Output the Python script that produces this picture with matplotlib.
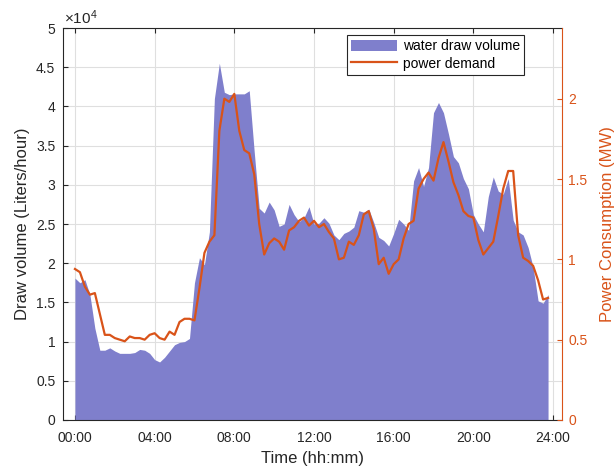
import numpy as np
import matplotlib
matplotlib.use("Agg")
import matplotlib.pyplot as plt
from matplotlib.patches import Patch
from matplotlib.lines import Line2D

plt.rcParams['font.family'] = ['Liberation Sans', 'DejaVu Sans']
plt.rcParams['mathtext.fontset'] = 'custom'
plt.rcParams['mathtext.rm'] = 'Liberation Sans'

# 15 minute samples, 00:00 .. 23:45
step_h = 0.25

# water draw volume, x 10^4 liters/hour
volume = [1.81, 1.75, 1.79, 1.60, 1.17, 0.89, 0.89, 0.92,
          0.88, 0.85, 0.85, 0.85, 0.86, 0.90, 0.89, 0.85,
          0.77, 0.74, 0.80, 0.88, 0.96, 0.99, 1.00, 1.04,
          1.75, 2.07, 1.98, 2.40, 4.10, 4.55, 4.18, 4.15,
          4.16, 4.16, 4.16, 4.20, 3.42, 2.70, 2.64, 2.78,
          2.68, 2.47, 2.50, 2.75, 2.62, 2.53, 2.58, 2.72,
          2.50, 2.51, 2.58, 2.51, 2.36, 2.30, 2.38, 2.41,
          2.46, 2.67, 2.65, 2.69, 2.52, 2.33, 2.29, 2.22,
          2.38, 2.56, 2.50, 2.42, 3.05, 3.22, 2.98, 3.22,
          3.92, 4.05, 3.92, 3.65, 3.36, 3.28, 3.08, 2.95,
          2.62, 2.50, 2.40, 2.85, 3.10, 2.92, 2.88, 3.08,
          2.55, 2.40, 2.36, 2.20, 1.95, 1.52, 1.49, 1.60]

# power demand, MW
power = [0.94, 0.92, 0.83, 0.78, 0.79, 0.66, 0.53, 0.53,
         0.51, 0.50, 0.49, 0.52, 0.51, 0.51, 0.50, 0.53,
         0.54, 0.51, 0.50, 0.55, 0.53, 0.61, 0.63, 0.63,
         0.62, 0.82, 1.04, 1.11, 1.15, 1.80, 2.00, 1.98,
         2.03, 1.80, 1.68, 1.66, 1.53, 1.22, 1.03, 1.10,
         1.13, 1.11, 1.06, 1.18, 1.20, 1.24, 1.26, 1.21,
         1.24, 1.20, 1.22, 1.17, 1.13, 1.00, 1.01, 1.11,
         1.09, 1.15, 1.28, 1.30, 1.19, 0.97, 1.01, 0.91,
         0.97, 1.00, 1.13, 1.22, 1.24, 1.44, 1.50, 1.54,
         1.49, 1.63, 1.73, 1.61, 1.48, 1.40, 1.30, 1.27,
         1.26, 1.12, 1.03, 1.07, 1.11, 1.27, 1.44, 1.55,
         1.55, 1.15, 1.01, 0.99, 0.96, 0.87, 0.75, 0.76]

hour_ticks = [0, 4, 8, 12, 16, 20, 24]
hour_labels = ["00:00", "04:00", "08:00", "12:00", "16:00", "20:00", "24:00"]

hours = np.arange(len(volume)) * step_h

area_col = "#7F7FCC"
line_col = "#D95319"
dark = "#262626"

fig = plt.figure(figsize=(6.14, 4.70), dpi=100)
ax = fig.add_axes([0.1026, 0.1064, 0.8127, 0.834])
ax.fill_between(hours, 0, volume, color=area_col, linewidth=0, zorder=2)
ax.set_xlim(-0.6, 24.45)
ax.set_ylim(0, 5)
ax.set_yticks(np.arange(0, 5.01, 0.5))
ax.set_yticklabels(["0", "0.5", "1", "1.5", "2", "2.5", "3", "3.5", "4", "4.5", "5"])
ax.set_xticks(hour_ticks)
ax.set_xticklabels(hour_labels)
ax.grid(True, color="#DFDFDF", linewidth=0.8, zorder=0)
ax.set_axisbelow(True)
ax.tick_params(direction="in", length=3.5, width=0.8, colors=dark, labelsize=10,
               top=True, right=False)
ax.tick_params(axis="x", pad=8)
ax.tick_params(axis="y", pad=5.5)
for s in ["left", "bottom", "top"]:
    ax.spines[s].set_color(dark)
    ax.spines[s].set_linewidth(0.8)
ax.spines["right"].set_visible(False)
ax.set_xlabel("Time (hh:mm)", fontsize=12, color=dark, labelpad=4)
ax.set_ylabel("Draw volume (Liters/hour)", fontsize=12, color=dark, labelpad=4)
ax.text(0.003, 1.003, r"$\times\mathregular{10^{4}}$", transform=ax.transAxes,
        ha="left", va="bottom", fontsize=11, color=dark)

ax2 = ax.twinx()
ax2.plot(hours, power, color=line_col, linewidth=1.6)
ax2.set_ylim(0, 2.44)
ax2.set_yticks([0, 0.5, 1, 1.5, 2])
ax2.set_yticklabels(["0", "0.5", "1", "1.5", "2"])
ax2.tick_params(direction="in", length=3.5, width=0.8, colors=line_col,
                labelsize=10, pad=4.5)
ax2.spines["right"].set_color(line_col)
ax2.spines["right"].set_linewidth(0.8)
for s in ["left", "bottom", "top"]:
    ax2.spines[s].set_visible(False)
ax2.set_ylabel("Power Consumption (MW)", fontsize=12, color=line_col, labelpad=9)

handles = [Patch(facecolor=area_col, edgecolor="none"),
           Line2D([], [], color=line_col, linewidth=1.6)]
leg = ax2.legend(handles, ["water draw volume", "power demand"],
                 loc="upper right", bbox_to_anchor=(0.924, 0.982),
                 fancybox=False, edgecolor=dark, framealpha=1, fontsize=10,
                 handlelength=3.3, handleheight=0.9, borderpad=0.3,
                 labelspacing=0.25, handletextpad=0.4, borderaxespad=0)
leg.get_frame().set_linewidth(0.8)

fig.savefig("out.png", dpi=100)
